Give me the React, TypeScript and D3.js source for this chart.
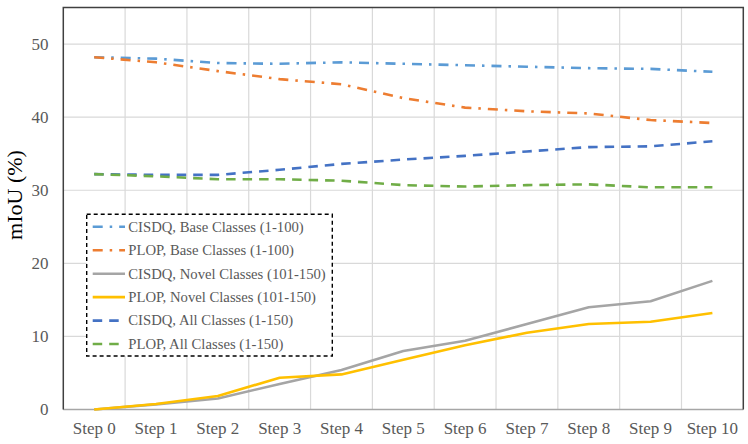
import React from "react";
import * as d3 from "d3";

const steps = ["Step 0","Step 1","Step 2","Step 3","Step 4","Step 5","Step 6","Step 7","Step 8","Step 9","Step 10"];
const yTicks = [0, 10, 20, 30, 40, 50];

const cisdqBase = [48.2, 48.0, 47.4, 47.3, 47.5, 47.3, 47.1, 46.9, 46.7, 46.6, 46.2];
const plopBase = [48.2, 47.5, 46.3, 45.2, 44.5, 42.6, 41.3, 40.8, 40.5, 39.6, 39.2];
const cisdqNovel = [0, 0.7, 1.5, 3.5, 5.4, 8.0, 9.4, 11.7, 14.0, 14.8, 17.6];
const plopNovel = [0, 0.75, 1.85, 4.35, 4.8, 6.8, 8.8, 10.5, 11.7, 12.0, 13.2];
const cisdqAll = [32.2, 32.1, 32.1, 32.8, 33.6, 34.2, 34.7, 35.3, 35.9, 36.0, 36.7];
const plopAll = [32.2, 31.9, 31.5, 31.5, 31.3, 30.7, 30.5, 30.7, 30.8, 30.4, 30.4];

const seriesNames = [
  "CISDQ, Base Classes (1-100)",
  "PLOP, Base Classes (1-100)",
  "CISDQ, Novel Classes (101-150)",
  "PLOP, Novel Classes (101-150)",
  "CISDQ, All Classes (1-150)",
  "PLOP, All Classes (1-150)",
];

const seriesValues = [cisdqBase, plopBase, cisdqNovel, plopNovel, cisdqAll, plopAll];
const seriesColors = ["#5B9BD5", "#ED7D31", "#A5A5A5", "#FFC000", "#4472C4", "#70AD47"];
const seriesDash = ["10 7 2.5 7", "10 7 2.5 7", "", "", "9.5 7", "9.5 7"];

export default function App() {
  const W = 748, H = 444;
  const left = 63.3, right = 743.3, top = 7.5, bottom = 409.5;
  const x = d3.scaleBand<string>().domain(steps).range([left, right]).padding(0);
  const y = d3.scaleLinear().domain([0, 55]).range([bottom, top]);
  const line = d3.line<number>()
    .x((_, i) => (x(steps[i]) as number) + x.bandwidth() / 2)
    .y((d) => y(d));
  const serif = "'Liberation Serif', 'Times New Roman', serif";
  const legendX = 86.7, legendY = 214.3, legendW = 245.6, legendH = 141.7;
  const rowH = 23.45;
  const row0 = 226.8;

  return (
    <svg width={W} height={H} style={{ position: "absolute", left: 0, top: 0 }} fontFamily={serif}>
      <rect x={0} y={0} width={W} height={H} fill="#fff" />
      {/* horizontal grid */}
      {yTicks.filter((t) => t > 0).map((t) => (
        <line key={"h" + t} x1={left} x2={right} y1={y(t)} y2={y(t)} stroke="#D9D9D9" strokeWidth={1.2} />
      ))}
      {/* vertical grid */}
      {steps.slice(1).map((s) => (
        <line key={"v" + s} x1={x(s) as number} x2={x(s) as number} y1={top} y2={bottom} stroke="#D9D9D9" strokeWidth={1.2} />
      ))}
      {/* frame */}
      <line x1={left} x2={right} y1={bottom} y2={bottom} stroke="#A6A6A6" strokeWidth={1.3} />
      <path d={`M${left},${bottom} V${top} H${right} V${bottom}`} fill="none" stroke="#404040" strokeWidth={1.5} />
      {/* series */}
      {seriesValues.map((vals, i) => (
        <path key={"s" + i} d={line(vals) as string} fill="none" stroke={seriesColors[i]} strokeWidth={2.6}
          strokeDasharray={seriesDash[i] || undefined} strokeLinejoin="round" />
      ))}
      {/* y ticks */}
      {yTicks.map((t) => (
        <text key={"yt" + t} x={48.5} y={y(t)} dy="0.35em" textAnchor="end" fontSize={17} fill="#595959">{t}</text>
      ))}
      {/* x ticks */}
      {steps.map((s) => (
        <text key={"xt" + s} x={(x(s) as number) + x.bandwidth() / 2} y={433.5} textAnchor="middle" fontSize={17} fill="#595959">{s}</text>
      ))}
      {/* y title */}
      <text transform={`translate(22,195) rotate(-90)`} textAnchor="middle" fontSize={22} fill="#000">mIoU (%)</text>
      {/* legend */}
      <rect x={legendX} y={legendY} width={legendW} height={legendH} fill="#fff" stroke="#000" strokeWidth={1.4} strokeDasharray="4 3" />
      {seriesNames.map((n, i) => {
        const cy = row0 + i * rowH;
        return (
          <g key={"lg" + i}>
            <line x1={92.7} x2={125} y1={cy} y2={cy} stroke={seriesColors[i]} strokeWidth={2.6}
              strokeDasharray={seriesDash[i] || undefined} />
            <text x={128.3} y={cy + 4.8} fontSize={14.7} fill="#595959">{n}</text>
          </g>
        );
      })}
    </svg>
  );
}
